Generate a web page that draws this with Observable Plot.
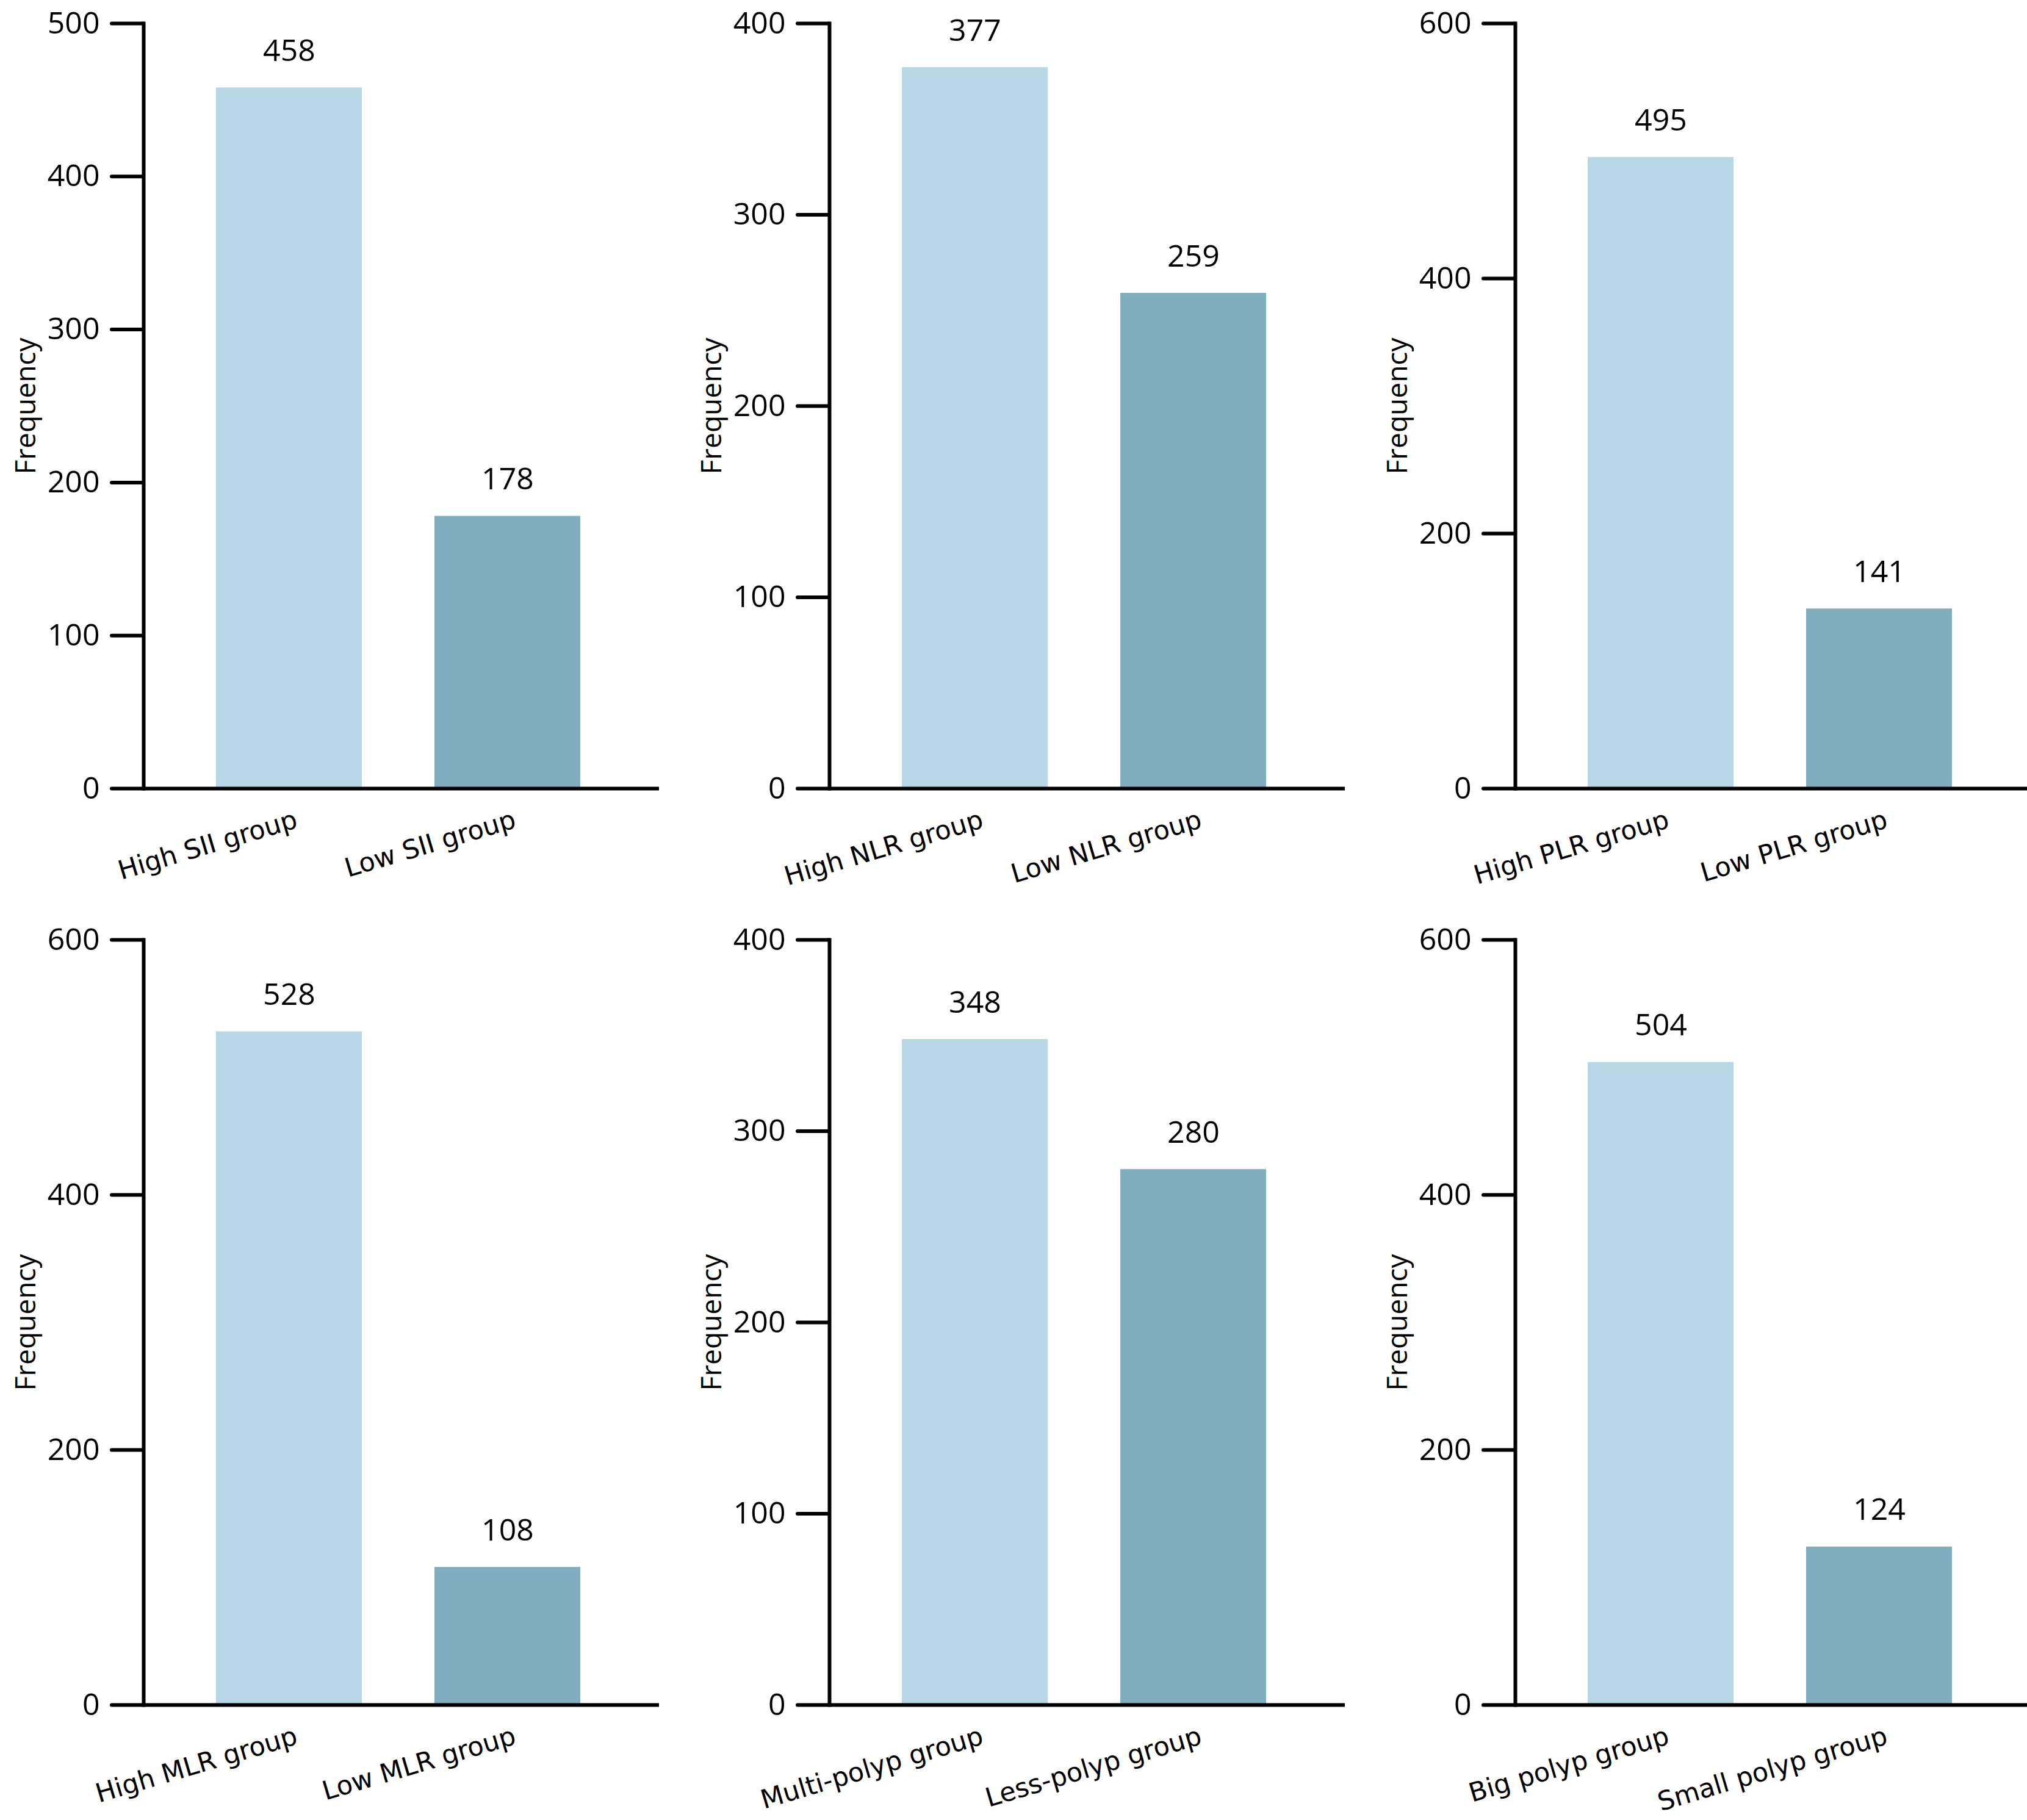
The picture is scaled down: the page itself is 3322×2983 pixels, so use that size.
<!DOCTYPE html>
<html>
<head>
<meta charset="utf-8">
<script src="https://cdn.jsdelivr.net/npm/d3@7"></script>
<script src="https://cdn.jsdelivr.net/npm/@observablehq/plot@0.6"></script>
<style>
  html, body { margin: 0; padding: 0; background: #fff; overflow: hidden; }
  #wrap { position: relative; width: 3322px; height: 2983px; overflow: hidden; }
  .panel { position: absolute; }
</style>
</head>
<body>
<div id="wrap"></div>
<script>
// ---- data ----
const sii_cats = ["High SII group", "Low SII group"];
const sii_vals = [458, 178];
const sii_ticks = [0, 100, 200, 300, 400, 500];

const nlr_cats = ["High NLR group", "Low NLR group"];
const nlr_vals = [377, 259];
const nlr_ticks = [0, 100, 200, 300, 400];

const plr_cats = ["High PLR group", "Low PLR group"];
const plr_vals = [495, 141];
const plr_ticks = [0, 200, 400, 600];

const mlr_cats = ["High MLR group", "Low MLR group"];
const mlr_vals = [528, 108];
const mlr_ticks = [0, 200, 400, 600];

const num_cats = ["Multi-polyp group", "Less-polyp group"];
const num_vals = [348, 280];
const num_ticks = [0, 100, 200, 300, 400];

const size_cats = ["Big polyp group", "Small polyp group"];
const size_vals = [504, 124];
const size_ticks = [0, 200, 400, 600];

const yLabel = "Frequency";
const barColors = ["#b7d7e7", "#81aebe"];

const panels = [
  {cats: sii_cats, vals: sii_vals, ticks: sii_ticks, col: 0, row: 0},
  {cats: nlr_cats, vals: nlr_vals, ticks: nlr_ticks, col: 1, row: 0},
  {cats: plr_cats, vals: plr_vals, ticks: plr_ticks, col: 2, row: 0},
  {cats: mlr_cats, vals: mlr_vals, ticks: mlr_ticks, col: 0, row: 1},
  {cats: num_cats, vals: num_vals, ticks: num_ticks, col: 1, row: 1},
  {cats: size_cats, vals: size_vals, ticks: size_ticks, col: 2, row: 1}
];

const wrap = document.getElementById("wrap");
const W = 1124, H = 1480;
const fontNum = "'Open Sans', 'Noto Sans', sans-serif";
const fontCat = "'DejaVu Sans', Verdana, sans-serif";

for (const p of panels) {
  const data = p.cats.map((c, i) => ({cat: c, value: p.vals[i]}));
  const ymax = p.ticks[p.ticks.length - 1];
  const chart = Plot.plot({
    width: W,
    height: H,
    marginLeft: 235,
    marginRight: 44,
    marginTop: 38,
    marginBottom: 188,
    style: {fontFamily: fontNum, fontSize: "50px", color: "#000", background: "transparent"},
    x: {type: "band", domain: p.cats, paddingInner: 0.332, paddingOuter: 0.346, align: 0.48},
    y: {domain: [0, ymax]},
    color: {domain: p.cats, range: barColors},
    marks: [
      Plot.barY(data, {x: "cat", y: "value", fill: "cat"}),
      Plot.text(data, {x: "cat", y: "value", text: d => String(d.value), dy: -44, lineAnchor: "bottom",
        fontFamily: fontNum, fontSize: 50, fill: "#000"}),
      Plot.frame({anchor: "left", stroke: "#000", strokeWidth: 6}),
      Plot.ruleY([0], {stroke: "#000", strokeWidth: 6}),
      Plot.axisY({ticks: p.ticks, tickSize: 52, tickPadding: 20, strokeWidth: 6, strokeLinecap: "round",
        fontFamily: fontNum, fontSize: 50, label: null, tickFormat: d => String(d)}),
      Plot.axisX({tickSize: 0, tickRotate: -16.5, tickPadding: 50, dx: 12, fontFamily: fontCat, fontSize: 43, label: null}),
      Plot.text([yLabel], {text: d => d, frameAnchor: "left", textAnchor: "middle", lineAnchor: "bottom",
        rotate: -90, dx: -178, fontFamily: fontNum, fontSize: 46, fill: "#000"})
    ]
  });
  chart.classList.add("panel");
  chart.style.left = (p.col * W) + "px";
  chart.style.top = (p.row * 1502) + "px";
  wrap.appendChild(chart);
}
</script>
</body>
</html>
